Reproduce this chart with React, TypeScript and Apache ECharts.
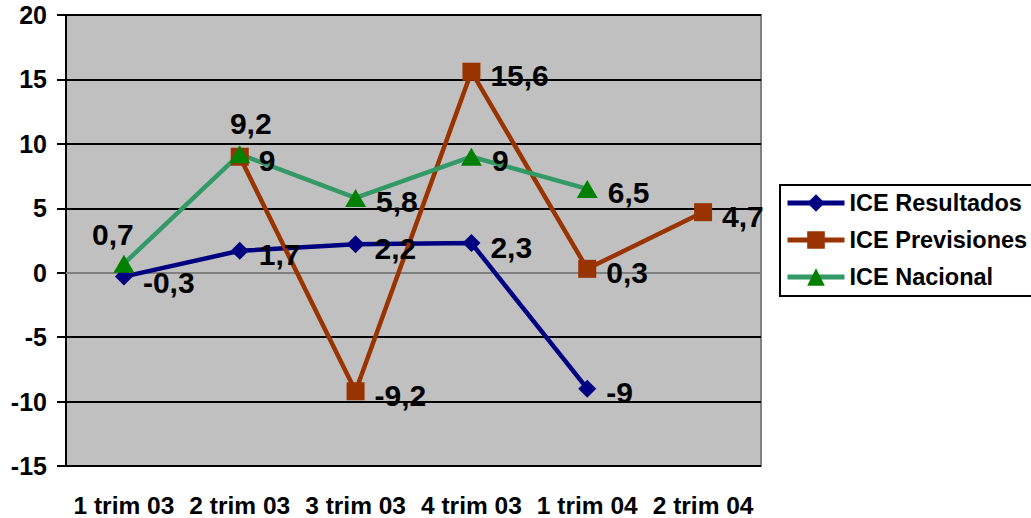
import React, { useEffect, useRef } from "react";
import * as echarts from "echarts";

const categories = ["1 trim 03", "2 trim 03", "3 trim 03", "4 trim 03", "1 trim 04", "2 trim 04"];
const resultados: (number | null)[] = [-0.3, 1.7, 2.2, 2.3, -9, null];
const previsiones: (number | null)[] = [null, 9, -9.2, 15.6, 0.3, 4.7];
const nacional: (number | null)[] = [0.7, 9.2, 5.8, 9, 6.5, null];
const seriesNames = ["ICE Resultados", "ICE Previsiones", "ICE Nacional"];

const FONT = "Arial, 'Liberation Sans', sans-serif";

const fmt = (v: number) => String(v).replace(".", ",");

function withLabels(values: (number | null)[], overrides: Record<number, any> = {}) {
  return values.map((v, i) =>
    v === null ? null : overrides[i] ? { value: v, label: overrides[i] } : v
  );
}

export default function App() {
  const ref = useRef<HTMLDivElement>(null);
  useEffect(() => {
    document.body.style.margin = "0";
    const chart = echarts.init(ref.current!, null, { renderer: "svg" });
    const labelBase = {
      show: true,
      position: "right",
      distance: 10,
      offset: [0, 4],
      color: "#000",
      fontSize: 30,
      fontWeight: "bold",
      fontFamily: FONT,
      formatter: (p: any) => fmt(p.value),
    };
    chart.setOption({
      animation: false,
      backgroundColor: "#fff",
      textStyle: { fontFamily: FONT },
      grid: {
        left: 66,
        top: 15,
        right: 270,
        bottom: 51,
        show: true,
        backgroundColor: "#C0C0C0",
        borderColor: "#808080",
        borderWidth: 2,
      },
      legend: {
        orient: "vertical",
        left: 780,
        top: 185,
        padding: [6, 12, 7, 5],
        itemWidth: 57,
        itemHeight: 22,
        itemGap: 13,
        borderColor: "#000",
        borderWidth: 2,
        backgroundColor: "#fff",
        lineStyle: { width: 5 },
        textStyle: {
          fontSize: 23.5,
          fontWeight: "bold",
          color: "#000",
          fontFamily: FONT,
          lineHeight: 24,
        },
        data: seriesNames,
      },
      xAxis: {
        type: "category",
        data: categories,
        boundaryGap: true,
        axisLine: { show: true, lineStyle: { color: "#808080", width: 2 } },
        axisTick: { show: false },
        axisLabel: {
          margin: 27,
          fontSize: 24.5,
          fontWeight: "bold",
          color: "#000",
          fontFamily: FONT,
          interval: 0,
        },
        splitLine: { show: false },
      },
      yAxis: {
        type: "value",
        min: -15,
        max: 20,
        interval: 5,
        axisLine: { show: true, onZero: false, lineStyle: { color: "#000", width: 2 } },
        axisTick: { show: true, length: 9, lineStyle: { color: "#000", width: 2 } },
        axisLabel: {
          margin: 19,
          fontSize: 25,
          fontWeight: "bold",
          color: "#000",
          fontFamily: FONT,
          padding: [6, 0, 0, 0],
        },
        splitLine: { show: true, lineStyle: { color: "#000", width: 2 } },
      },
      series: [
        {
          name: seriesNames[0],
          type: "line",
          data: withLabels(resultados, { 0: { offset: [0, 6] } }),
          symbol: "diamond",
          symbolSize: 18,
          lineStyle: { color: "#000080", width: 4.5 },
          itemStyle: { color: "#000080" },
          label: labelBase,
        },
        {
          name: seriesNames[1],
          type: "line",
          data: withLabels(previsiones),
          symbol: "rect",
          symbolSize: 18,
          lineStyle: { color: "#993300", width: 4.5 },
          itemStyle: { color: "#993300" },
          label: labelBase,
        },
        {
          name: seriesNames[2],
          type: "line",
          data: withLabels(nacional, {
            0: { position: "inside", offset: [-11, -29] },
            1: { position: "inside", offset: [11, -31] },
          }),
          symbol: "triangle",
          symbolSize: [21, 18],
          lineStyle: { color: "#339966", width: 4.5 },
          itemStyle: { color: "#008000" },
          label: labelBase,
        },
      ],
    });
    return () => chart.dispose();
  }, []);
  return <div ref={ref} style={{ width: 1031, height: 518 }} />;
}
